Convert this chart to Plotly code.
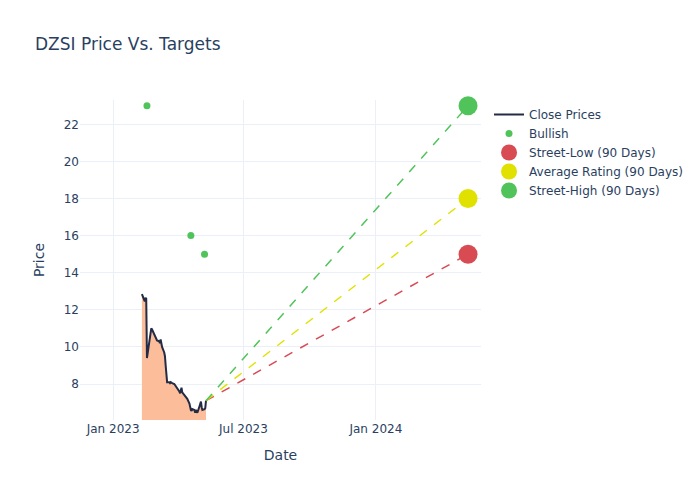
import pandas as pd
import plotly.graph_objects as go

close_dates = pd.bdate_range("2023-02-10", "2023-05-10")
close_prices = [
    12.85, 12.6, 12.45, 12.65, 12.6, 9.4,
    10.2, 10.6, 10.8, 11.0, 10.95,
    10.7, 10.55, 10.45, 10.4, 10.35,
    10.3, 10.2, 10.4, 10.1, 10.0,
    9.7, 9.5, 9.0, 8.6, 8.1,
    8.1, 8.05, 8.1, 8.05, 8.05,
    8.0, 7.95, 7.9, 7.85, 7.75,
    7.6, 7.5, 7.75, 7.8, 7.55,
    7.4, 7.3, 7.3, 7.25, 7.2,
    6.95, 6.7, 6.6, 6.55, 6.65,
    6.6, 6.45, 6.6, 6.5, 6.45,
    6.8, 7.0, 7.05, 6.75, 6.6,
    6.65, 6.7, 7.1,
]

bullish_dates = ["2023-02-17", "2023-04-19", "2023-05-08"]
bullish_targets = [23, 16, 15]

target_date = "2024-05-08"
street_low = 15
avg_rating = 18
street_high = 23

red = "#D84B52"
yellow = "#E1E100"
green = "#50C45A"

fig = go.Figure()
fig.add_trace(go.Scatter(
    x=close_dates, y=close_prices, mode="lines", showlegend=False,
    line=dict(width=0), hoverinfo="skip",
    fill="tozeroy", fillcolor="rgba(252,185,150,0.95)",
))
fig.add_trace(go.Scatter(
    x=close_dates, y=close_prices, mode="lines", name="Close Prices",
    line=dict(color="#232B45", width=2),
))
fig.add_trace(go.Scatter(
    x=bullish_dates, y=bullish_targets, mode="markers", name="Bullish",
    marker=dict(color=green, size=7),
))
last_date = close_dates[-1]
last_price = close_prices[-1]
targets = [(street_low, red, "Street-Low (90 Days)"),
           (avg_rating, yellow, "Average Rating (90 Days)"),
           (street_high, green, "Street-High (90 Days)")]
for val, col, nm in targets:
    fig.add_trace(go.Scatter(
        x=[last_date, target_date], y=[last_price, val], mode="lines",
        line=dict(color=col, dash="dash", width=1.5), showlegend=False,
        hoverinfo="skip",
    ))
for val, col, nm in targets:
    fig.add_trace(go.Scatter(
        x=[target_date], y=[val], mode="markers", name=nm,
        marker=dict(color=col, size=19), cliponaxis=False,
    ))

fig.update_layout(
    template="plotly_white",
    width=700, height=500,
    font=dict(family="DejaVu Sans"),
    title=dict(text="DZSI Price Vs. Targets"),
    xaxis=dict(title="Date", range=["2022-11-16", "2024-05-26"], dtick="M6"),
    yaxis=dict(title="Price", range=[6.06, 23.31]),
)
fig.write_html("out.html", config={"displayModeBar": False},
               post_script="document.body.style.margin='0';")
